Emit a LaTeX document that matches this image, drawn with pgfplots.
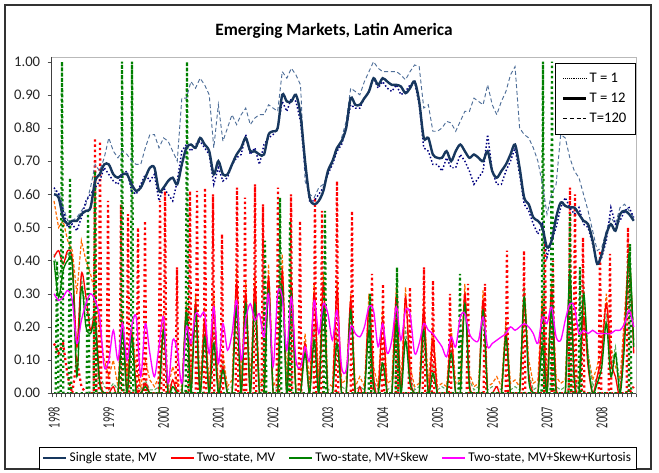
\documentclass[border=0pt]{standalone}
\usepackage{fontspec}
\setmainfont{Carlito}
\usepackage{graphicx}
\usepackage{pgfplots}
\usepackage{pgfplotstable}
\pgfplotsset{compat=1.18}

\definecolor{navyS}{HTML}{17375E}
\definecolor{navyD}{HTML}{000080}
\definecolor{navyL}{HTML}{4F6F99}
\definecolor{redC}{HTML}{FF0000}
\definecolor{orangeC}{HTML}{FF6A00}
\definecolor{greenC}{HTML}{008000}
\definecolor{greenL}{HTML}{5DAF5D}
\definecolor{magC}{HTML}{FF00FF}

\newcommand{\yr}[1]{\scalebox{0.62}[1.0]{#1}}

\pgfplotstableread{
i s1 s12 s120 r12 r120 g12 g120 k12
0 0.62 0.60 0.61 0.41 0.58 0.40 0.42 0.30
1 0.60 0.59 0.61 0.43 0.50 0.29 0.35 0.28
2 0.55 0.53 0.56 0.39 0.52 0.37 0.39 0.29
3 0.50 0.51 0.52 0.43 0.46 0.40 0.42 0.31
4 0.51 0.52 0.52 0.40 0.43 0.39 0.40 0.28
5 0.49 0.52 0.53 0.14 0.30 0.05 0.12 0.15
6 0.53 0.54 0.55 0.36 0.46 0.32 0.35 0.22
7 0.58 0.55 0.57 0.29 0.40 0.20 0.25 0.27
8 0.60 0.56 0.62 0.19 0.36 0.18 0.22 0.30
9 0.62 0.64 0.69 0.23 0.30 0.21 0.24 0.28
10 0.64 0.66 0.67 0.04 0.20 0.03 0.06 0.23
11 0.68 0.69 0.71 0.00 0.10 0.00 0.02 0.08
12 0.66 0.69 0.77 0.00 0.05 0.00 0.01 0.10
13 0.64 0.66 0.73 0.02 0.10 0.00 0.03 0.19
14 0.63 0.65 0.71 0.00 0.02 0.00 0.01 0.10
15 0.66 0.66 0.73 0.20 0.24 0.19 0.22 0.21
16 0.67 0.66 0.72 0.00 0.05 0.00 0.02 0.10
17 0.61 0.63 0.70 0.18 0.20 0.17 0.19 0.20
18 0.60 0.61 0.69 0.02 0.08 0.00 0.02 0.23
19 0.63 0.62 0.69 0.00 0.02 0.00 0.01 0.05
20 0.66 0.65 0.74 0.03 0.10 0.02 0.04 0.21
21 0.64 0.68 0.78 0.00 0.04 0.00 0.01 0.12
22 0.66 0.68 0.78 0.00 0.02 0.00 0.01 0.05
23 0.58 0.61 0.74 0.00 0.05 0.00 0.02 0.14
24 0.62 0.62 0.77 0.19 0.24 0.19 0.21 0.23
25 0.60 0.64 0.76 0.00 0.02 0.00 0.01 0.03
26 0.58 0.65 0.73 0.04 0.08 0.02 0.04 0.16
27 0.64 0.63 0.70 0.00 0.03 0.00 0.01 0.13
28 0.73 0.69 0.89 0.00 0.02 0.00 0.01 0.03
29 0.75 0.74 0.89 0.25 0.28 0.24 0.27 0.20
30 0.73 0.75 0.94 0.01 0.04 0.00 0.02 0.15
31 0.75 0.74 0.92 0.27 0.30 0.25 0.28 0.24
32 0.76 0.77 0.95 0.00 0.03 0.00 0.01 0.23
33 0.74 0.75 0.93 0.22 0.26 0.17 0.20 0.24
34 0.72 0.73 0.90 0.00 0.02 0.00 0.01 0.12
35 0.63 0.66 0.74 0.26 0.30 0.15 0.19 0.26
36 0.68 0.70 0.87 0.00 0.02 0.00 0.01 0.09
37 0.64 0.66 0.76 0.08 0.12 0.07 0.09 0.21
38 0.65 0.66 0.80 0.00 0.02 0.00 0.01 0.13
39 0.69 0.69 0.84 0.00 0.04 0.00 0.02 0.18
40 0.71 0.72 0.81 0.33 0.38 0.26 0.30 0.28
41 0.72 0.74 0.84 0.00 0.04 0.00 0.02 0.10
42 0.78 0.77 0.86 0.30 0.34 0.27 0.30 0.22
43 0.72 0.73 0.81 0.00 0.03 0.00 0.01 0.27
44 0.74 0.73 0.83 0.32 0.36 0.27 0.30 0.22
45 0.69 0.72 0.84 0.00 0.03 0.00 0.02 0.24
46 0.75 0.72 0.84 0.00 0.04 0.00 0.02 0.17
47 0.77 0.78 0.87 0.35 0.39 0.31 0.34 0.30
48 0.78 0.79 0.86 0.00 0.02 0.00 0.01 0.08
49 0.80 0.80 0.85 0.00 0.05 0.00 0.02 0.30
50 0.88 0.90 0.97 0.37 0.42 0.32 0.36 0.29
51 0.85 0.88 0.95 0.00 0.04 0.00 0.02 0.13
52 0.89 0.88 0.98 0.32 0.36 0.30 0.33 0.29
53 0.88 0.90 0.96 0.00 0.02 0.00 0.01 0.10
54 0.82 0.84 0.93 0.00 0.03 0.00 0.02 0.08
55 0.68 0.70 0.64 0.15 0.18 0.12 0.14 0.14
56 0.58 0.59 0.60 0.00 0.03 0.00 0.01 0.10
57 0.58 0.57 0.59 0.30 0.33 0.16 0.20 0.28
58 0.60 0.58 0.62 0.00 0.04 0.00 0.02 0.18
59 0.62 0.61 0.63 0.33 0.36 0.26 0.30 0.27
60 0.66 0.67 0.66 0.00 0.03 0.00 0.01 0.24
61 0.69 0.70 0.70 0.00 0.02 0.00 0.01 0.16
62 0.73 0.74 0.73 0.31 0.34 0.15 0.19 0.25
63 0.75 0.76 0.77 0.00 0.03 0.00 0.02 0.08
64 0.80 0.80 0.82 0.00 0.04 0.00 0.01 0.07
65 0.87 0.89 0.92 0.28 0.30 0.25 0.28 0.20
66 0.86 0.87 0.91 0.00 0.02 0.00 0.01 0.18
67 0.86 0.87 0.90 0.02 0.05 0.00 0.02 0.17
68 0.89 0.89 0.94 0.00 0.02 0.00 0.01 0.20
69 0.91 0.91 0.97 0.26 0.30 0.19 0.23 0.26
70 0.95 0.95 1.00 0.05 0.08 0.02 0.04 0.25
71 0.92 0.93 0.98 0.00 0.02 0.00 0.01 0.14
72 0.94 0.95 0.97 0.22 0.26 0.09 0.12 0.21
73 0.92 0.94 0.97 0.00 0.03 0.00 0.01 0.12
74 0.91 0.93 0.97 0.00 0.04 0.00 0.02 0.16
75 0.93 0.93 0.97 0.29 0.32 0.21 0.25 0.26
76 0.90 0.925 0.96 0.00 0.02 0.00 0.01 0.16
77 0.91 0.905 0.945 0.29 0.32 0.16 0.20 0.25
78 0.93 0.92 0.97 0.05 0.08 0.03 0.05 0.24
79 0.94 0.94 0.99 0.00 0.02 0.00 0.01 0.12
80 0.87 0.88 0.985 0.00 0.03 0.00 0.02 0.15
81 0.74 0.77 0.86 0.25 0.28 0.19 0.22 0.21
82 0.73 0.77 0.87 0.00 0.03 0.00 0.01 0.19
83 0.69 0.72 0.79 0.16 0.20 0.06 0.09 0.18
84 0.69 0.71 0.79 0.00 0.02 0.00 0.01 0.16
85 0.67 0.71 0.80 0.00 0.03 0.00 0.02 0.14
86 0.71 0.73 0.82 0.00 0.02 0.00 0.01 0.11
87 0.68 0.70 0.815 0.17 0.20 0.12 0.15 0.17
88 0.68 0.73 0.79 0.00 0.03 0.00 0.01 0.14
89 0.72 0.75 0.82 0.00 0.04 0.00 0.02 0.23
90 0.70 0.73 0.85 0.30 0.33 0.27 0.30 0.24
91 0.67 0.71 0.85 0.03 0.06 0.02 0.04 0.18
92 0.63 0.72 0.89 0.00 0.02 0.00 0.01 0.16
93 0.65 0.71 0.88 0.00 0.03 0.00 0.02 0.16
94 0.67 0.70 0.87 0.28 0.31 0.25 0.28 0.23
95 0.78 0.73 0.93 0.00 0.02 0.00 0.01 0.14
96 0.67 0.67 0.87 0.00 0.03 0.00 0.02 0.15
97 0.63 0.65 0.84 0.02 0.05 0.00 0.02 0.16
98 0.63 0.67 0.88 0.00 0.02 0.00 0.01 0.17
99 0.67 0.69 0.91 0.18 0.22 0.17 0.20 0.18
100 0.70 0.72 0.96 0.00 0.03 0.00 0.01 0.20
101 0.74 0.75 0.985 0.00 0.04 0.00 0.02 0.19
102 0.66 0.68 0.80 0.00 0.02 0.00 0.01 0.20
103 0.57 0.59 0.78 0.27 0.33 0.29 0.32 0.21
104 0.55 0.57 0.77 0.06 0.10 0.04 0.06 0.20
105 0.51 0.53 0.74 0.00 0.03 0.00 0.01 0.18
106 0.48 0.52 0.70 0.00 0.04 0.00 0.02 0.15
107 0.51 0.50 0.63 0.25 0.30 0.14 0.18 0.23
108 0.41 0.44 0.54 0.00 0.03 0.00 0.01 0.21
109 0.46 0.46 0.60 0.31 0.34 0.26 0.29 0.26
110 0.50 0.53 0.63 0.02 0.05 0.00 0.02 0.17
111 0.56 0.575 0.78 0.00 0.03 0.00 0.01 0.16
112 0.59 0.565 0.77 0.00 0.04 0.00 0.02 0.22
113 0.56 0.56 0.71 0.34 0.36 0.36 0.39 0.27
114 0.54 0.56 0.67 0.05 0.08 0.03 0.05 0.26
115 0.56 0.54 0.65 0.00 0.03 0.00 0.01 0.18
116 0.51 0.52 0.60 0.23 0.27 0.30 0.33 0.19
117 0.50 0.51 0.55 0.08 0.12 0.10 0.12 0.18
118 0.45 0.46 0.49 0.00 0.04 0.00 0.02 0.19
119 0.39 0.39 0.43 0.05 0.08 0.03 0.05 0.18
120 0.41 0.42 0.44 0.12 0.16 0.08 0.10 0.18
121 0.46 0.48 0.49 0.27 0.30 0.21 0.24 0.18
122 0.56 0.51 0.53 0.10 0.14 0.05 0.07 0.18
123 0.51 0.49 0.51 0.05 0.08 0.12 0.14 0.19
124 0.52 0.54 0.56 0.00 0.04 0.00 0.02 0.19
125 0.55 0.55 0.57 0.20 0.24 0.15 0.18 0.21
126 0.56 0.54 0.55 0.40 0.45 0.42 0.45 0.25
127 0.53 0.52 0.53 0.12 0.16 0.14 0.16 0.20
}\data

\begin{document}
\begin{tikzpicture}
\fill[white] (0,0) rectangle (494.25pt,354.75pt);
\path[use as bounding box] (0,0) rectangle (494.25pt,354.75pt);
\draw[black!80, line width=0.8pt] (3.75pt,3pt) rectangle (488.25pt,351pt);
\node[font=\fontsize{13}{15}\selectfont\bfseries] at (250.5pt,331.5pt) {Emerging Markets, Latin America};

\begin{axis}[
  at={(38.8pt,59.8pt)}, anchor=south west,
  scale only axis, width=438.2pt, height=252.2pt,
  xmin=-0.5, xmax=127.5, ymin=0, ymax=1.014,
  axis line style={gray!55},
  tick pos=left, tick align=outside,
  xtick={0,12,24,36,48,60,72,84,96,108,120},
  xticklabels={\yr{1998},\yr{1999},\yr{2000},\yr{2001},\yr{2002},\yr{2003},\yr{2004},\yr{2005},\yr{2006},\yr{2007},\yr{2008}},
  major x tick style={draw=none},
  minor xtick={-0.5,0.5,...,127.5},
  minor x tick style={black!70},
  minor tick length=3pt,
  xticklabel style={rotate=90, anchor=east, inner sep=0pt, font=\fontsize{12.5}{14}\selectfont, text=black!85},
  xticklabel shift=7.3pt,
  ytick={0,0.1,0.2,0.3,0.4,0.5,0.6,0.7,0.8,0.9,1.0},
  major y tick style={black!70},
  major tick length=3pt,
  /pgf/number format/assume math mode=true,
  yticklabel style={/pgf/number format/fixed, /pgf/number format/fixed zerofill, /pgf/number format/precision=2, font=\fontsize{11}{13}\selectfont, text=black!85, inner sep=0pt},
  yticklabel shift=5.5pt,
  legend style={at={(0.4896,-0.193)}, anchor=center, draw=black, font=\fontsize{10}{12}\selectfont, legend columns=4, inner xsep=2pt, inner ysep=2pt, /tikz/every even column/.append style={column sep=8pt}},
  after end axis/.code={
    \draw[black!75, line width=0.6pt] (rel axis cs:0,1) -- (rel axis cs:0,0) -- (rel axis cs:1,0);
  },
]
% Two-state MV, T=120 (orange dashed)
\addplot[forget plot, orangeC, line width=0.9pt, dash pattern=on 2.5pt off 1.5pt] table[x=i,y=r120]{\data};
% Two-state MV+Skew, T=120
\addplot[forget plot, greenL, line width=0.8pt, dash pattern=on 2.5pt off 1.5pt] table[x=i,y=g120]{\data};
% Two-state MV, T=1 (red dotted)
\addplot[forget plot, redC, line width=1.7pt, dash pattern=on 1.7pt off 2.2pt] coordinates {
(0,0.15) (1,0.12) (2,0.15) (3,0.05) (4,0) (5,0.10) (6,0.02) (7,0) (8.68,0) (8.98,0.77) (9.28,0) (9.78,0) (10.08,0.76) (10.38,0) (11.53,0) (11.83,0.58) (12.13,0) (14.38,0) (14.68,0.57) (14.98,0) (15.91,0) (16.21,0.54) (16.51,0) (18.10,0) (18.40,0.50) (18.70,0) (19.63,0) (19.93,0.52) (20.23,0) (22.92,0) (23.22,0.58) (23.52,0) (24.02,0) (24.32,0.61) (24.62,0) (26.64,0) (26.94,0.38) (27.24,0) (29.49,0) (29.79,0.61) (30.09,0) (31.03,0) (31.33,0.61) (31.63,0) (32.78,0) (33.08,0.62) (33.38,0) (34.53,0) (34.83,0.60) (35.13,0) (36.50,0) (36.80,0.48) (37.10,0) (39.79,0) (40.09,0.62) (40.39,0) (41.54,0) (41.84,0.59) (42.14,0) (43.73,0) (44.03,0.63) (44.33,0) (45.48,0) (45.78,0.57) (46.08,0) (48.77,0) (49.07,0.62) (49.37,0) (51.62,0) (51.92,0.60) (52.22,0) (53.59,0) (53.89,0.52) (54.19,0) (56.87,0) (57.17,0.59) (57.47,0) (58.41,0) (58.71,0.55) (59.01,0) (61.69,0) (61.99,0.64) (62.29,0) (64.98,0) (65.28,0.55) (65.58,0) (69.36,0) (69.66,0.36) (69.96,0) (71.77,0) (72.07,0.33) (72.37,0) (74.84,0) (75.14,0.30) (75.44,0) (77.68,0) (77.98,0.32) (78.28,0) (80.75,0) (81.05,0.38) (81.35,0) (82.72,0) (83.02,0.34) (83.32,0) (86.45,0) (86.75,0.30) (87.05,0) (90.39,0) (90.69,0.33) (90.99,0) (94.11,0) (94.41,0.33) (94.71,0) (98.93,0) (99.23,0.43) (99.53,0) (102.66,0) (102.96,0.43) (103.26,0) (107.26,0) (107.56,0.47) (107.86,0) (109.01,0) (109.31,0.40) (109.61,0) (112.73,0) (113.03,0.62) (113.33,0) (113.83,0) (114.13,0.60) (114.43,0) (115.58,0) (115.88,0.47) (116.18,0) (119.31,0) (119.61,0.43) (119.91,0) (121.50,0) (121.80,0.42) (122.10,0) (125.44,0) (125.74,0.50) (126.04,0) (127,0.02)
};
% Two-state MV, T=12
\addplot[forget plot, redC, line width=1pt, smooth] table[x=i,y=r12]{\data};
% Two-state MV+Skew, T=1 (green dotted)
\addplot[forget plot, greenC, line width=1.7pt, dash pattern=on 1.7pt off 2.2pt] coordinates {
(0,0) (0.36,0) (0.66,0.40) (0.96,0) (1.45,0) (1.75,1.0) (2.05,0) (3.2,0) (3.5,0.65) (3.8,0) (7.15,0) (7.45,0.55) (7.75,0) (8.68,0) (8.98,0.67) (9.28,0) (14.6,0) (14.9,1.0) (15.2,0) (16.79,0) (17.09,1.0) (17.39,0) (28.83,0) (29.13,1.0) (29.43,0) (45.92,0) (46.22,0.46) (46.52,0) (49.21,0) (49.51,0.59) (49.81,0) (51.40,0) (51.70,0.52) (52.00,0) (59.06,0) (59.36,0.55) (59.66,0) (68.92,0) (69.22,0.30) (69.52,0) (74.84,0) (75.14,0.38) (75.44,0) (88.64,0) (88.94,0.36) (89.24,0) (106.82,0) (107.12,1.0) (107.42,0) (108.79,0) (109.09,1.0) (109.39,0) (112.73,0) (113.03,0.54) (113.33,0) (114.92,0) (115.22,0.38) (115.52,0) (125.87,0) (126.17,0.45) (126.47,0) (127,0)
};
% Two-state MV+Skew, T=12
\addplot[forget plot, greenC, line width=1pt, smooth] table[x=i,y=g12]{\data};
% Two-state MV+Skew+Kurtosis, T=12
\addplot[forget plot, magC, line width=1pt, smooth] table[x=i,y=k12]{\data};
% Single state
\addplot[forget plot, navyL, line width=0.7pt, dash pattern=on 3pt off 2pt] table[x=i,y=s120]{\data};
\addplot[forget plot, navyD, line width=1.1pt, dash pattern=on 1.1pt off 1.6pt] table[x=i,y=s1]{\data};
\addplot[forget plot, navyS, line width=1.8pt, smooth] table[x=i,y=s12]{\data};

\addlegendimage{navyS, line width=1.8pt}
\addlegendentry{Single state, MV}
\addlegendimage{redC, line width=1pt}
\addlegendentry{Two-state, MV}
\addlegendimage{greenC, line width=1pt}
\addlegendentry{Two-state, MV+Skew}
\addlegendimage{magC, line width=1pt}
\addlegendentry{Two-state, MV+Skew+Kurtosis}
\end{axis}

\begin{axis}[
  at={(38.8pt,59.8pt)}, anchor=south west,
  scale only axis, width=438.2pt, height=252.2pt,
  hide axis, xmin=0, xmax=1, ymin=0, ymax=1,
  legend style={at={(1.0,0.982)}, anchor=north east, draw=black, fill=white, font=\fontsize{11}{13}\selectfont, inner xsep=5pt, inner ysep=5pt, row sep=2.5pt},
  legend cell align=left,
  legend image code/.code={\draw[#1] (0pt,0pt) -- (17pt,0pt);},
]
\addlegendimage{black, line width=0.7pt, dash pattern=on 0.7pt off 0.7pt}
\addlegendentry{T = 1}
\addlegendimage{black, line width=1.6pt}
\addlegendentry{T = 12}
\addlegendimage{black, line width=0.7pt, dash pattern=on 3pt off 2pt}
\addlegendentry{T=120}
\end{axis}
\end{tikzpicture}
\end{document}
